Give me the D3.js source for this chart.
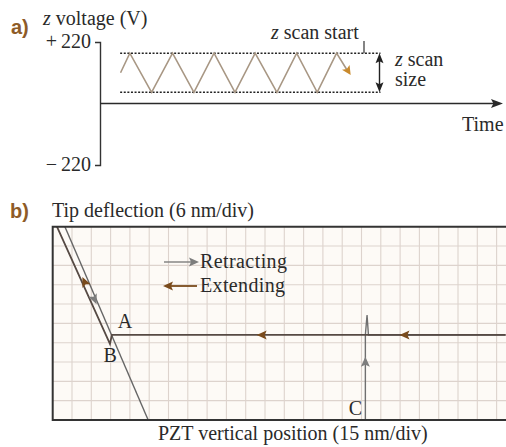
<!DOCTYPE html>
<html><head><meta charset="utf-8">
<script src="https://cdn.jsdelivr.net/npm/d3@7"></script>
<style>
body{margin:0;background:#fff}
svg{display:block}
text{font-family:"Liberation Serif","Times New Roman",serif;fill:#2a2a2a;font-size:20px}
.tag{font-family:"Liberation Sans",Arial,sans-serif;font-weight:bold;fill:#8e5b27;font-size:20px}
</style>
</head><body>
<svg id="chart" width="506" height="447"></svg>
<script>
// ---- panel a: z-piezo drive voltage vs time ----
const voltTicks = [220, -220];
const rampTime  = [5.1, 7.4, 12.8, 18.0, 23.3, 28.3, 33.5, 38.5, 43.9, 48.8, 53.9, 58.7, 62.2];
const rampVolts = [110, 180, 40, 180, 40, 180, 40, 180, 40, 180, 40, 180, 102];
const scanLevels = [180, 40];          // z scan start / end of z scan size
const scanSpan = [5, 69.6];            // time extent of the dotted guides

// ---- panel b: force curve, PZT position (nm) vs tip deflection (nm) ----
const extendPzt  = [352, 46.0, 44.5, 3.3];
const extendDefl = [26.4, 26.4, 23.6, 60];
const retractContactPzt  = [9.5, 74.2];
const retractContactDefl = [60, 0];
const retractFreePzt  = [243.0, 243.0, 244.3, 245.4, 352];
const retractFreeDefl = [0, 26.4, 32.6, 26.4, 26.4];
const extendArrowPzt = [162.4, 273.4];
const pointLabels = ["A", "B", "C"];
const pointPzt  = [50.5, 39.5, 240.5];
const pointDefl = [28.6, 17.9, 1.5];

const svg = d3.select("#chart");

function arrowHead(g, x, y, angleDeg, len, half, color) {
  g.append("path")
    .attr("d", `M0,0L${-len},${-half}L${-len * 0.8},0L${-len},${half}Z`)
    .attr("transform", `translate(${x},${y}) rotate(${angleDeg})`)
    .attr("fill", color);
}
function angleOf(x0, y0, x1, y1) { return Math.atan2(y1 - y0, x1 - x0) * 180 / Math.PI; }

// ================= panel a =================
const xA = d3.scaleLinear().domain([0, 100]).range([100, 503]);
const yA = d3.scaleLinear().domain([-220, 220]).range([165, 42]);
const ga = svg.append("g");

ga.append("text").attr("class", "tag").attr("x", 11).attr("y", 34).text("a)");
ga.append("text").attr("x", 43).attr("y", 25)
  .html('<tspan font-style="italic">z</tspan> voltage (V)');

const axA = d3.axisLeft(yA).tickValues(voltTicks).tickSizeInner(0).tickSizeOuter(5).tickPadding(9)
  .tickFormat(d => (d > 0 ? "+\u2009" : "\u2212\u2009") + Math.abs(d));
const axG = ga.append("g").attr("transform", `translate(${xA(0)},0)`).call(axA);
axG.select(".domain").attr("stroke", "#333").attr("stroke-width", 1.4);
axG.selectAll("text").attr("font-size", 20).attr("fill", "#2a2a2a")
  .attr("font-family", '"Liberation Serif",serif').attr("dy", "0.25em");

// time axis with arrow
ga.append("line").attr("x1", xA(0)).attr("x2", xA(100) - 8).attr("y1", yA(0)).attr("y2", yA(0))
  .attr("stroke", "#2a2a2a").attr("stroke-width", 1.6);
arrowHead(ga, xA(100), yA(0), 0, 12, 4.5, "#2a2a2a");
ga.append("text").attr("x", 462).attr("y", 131).text("Time");

// dotted scan guides
scanLevels.forEach(v => {
  ga.append("line").attr("x1", xA(scanSpan[0])).attr("x2", xA(scanSpan[1]))
    .attr("y1", yA(v)).attr("y2", yA(v))
    .attr("stroke", "#222").attr("stroke-width", 1.4).attr("stroke-dasharray", "2,1.6");
});

// ramp
const rampPts = rampTime.map((t, i) => [xA(t), yA(rampVolts[i])]);
ga.append("path").attr("d", d3.line()(rampPts.slice(0, -1).concat([[
  rampPts[rampPts.length - 1][0] - 3, rampPts[rampPts.length - 1][1] - 4]])))
  .attr("fill", "none").attr("stroke", "#a89784").attr("stroke-width", 1.6);
const pe = rampPts[rampPts.length - 1], pp = rampPts[rampPts.length - 2];
arrowHead(ga, pe[0], pe[1], angleOf(pp[0], pp[1], pe[0], pe[1]), 9, 4.5, "#c98a2d");

// z scan start marker
ga.append("line").attr("x1", 364).attr("x2", 364).attr("y1", 41).attr("y2", yA(scanLevels[0]))
  .attr("stroke", "#333").attr("stroke-width", 1.2);
ga.append("text").attr("x", 271).attr("y", 39)
  .html('<tspan font-style="italic">z</tspan> scan start');

// z scan size double arrow
const xs = 379.5;
ga.append("line").attr("x1", xs).attr("x2", xs).attr("y1", yA(scanLevels[0]) + 6).attr("y2", yA(scanLevels[1]) - 6)
  .attr("stroke", "#222").attr("stroke-width", 1.4);
arrowHead(ga, xs, yA(scanLevels[0]), -90, 10, 4, "#222");
arrowHead(ga, xs, yA(scanLevels[1]), 90, 10, 4, "#222");
ga.append("text").attr("x", 395).attr("y", 66).html('<tspan font-style="italic">z</tspan> scan');
ga.append("text").attr("x", 395).attr("y", 86).text("size");

// ================= panel b =================
const xB = d3.scaleLinear().domain([0, 352.3]).range([52.7, 506]);
const yB = d3.scaleLinear().domain([0, 60]).range([420, 226.7]);
const gb = svg.append("g");

gb.append("text").attr("class", "tag").attr("x", 10).attr("y", 218).text("b)");
gb.append("text").attr("x", 52).attr("y", 217).text("Tip deflection (6 nm/div)");
gb.append("text").attr("x", 158).attr("y", 440).text("PZT vertical position (15 nm/div)");

gb.append("rect").attr("x", xB(0)).attr("y", yB(60)).attr("width", 506 - xB(0)).attr("height", yB(0) - yB(60))
  .attr("fill", "#fdfaf6");

const gridX = d3.range(15, 352, 15);
const gridY = d3.range(6, 60, 6);
gb.append("g").selectAll("line").data(gridX).join("line")
  .attr("x1", d => xB(d)).attr("x2", d => xB(d)).attr("y1", yB(0)).attr("y2", yB(60))
  .attr("stroke", "#ddd3cd").attr("stroke-width", 1.1);
gb.append("g").selectAll("line").data(gridY).join("line")
  .attr("x1", xB(0)).attr("x2", 506).attr("y1", d => yB(d)).attr("y2", d => yB(d))
  .attr("stroke", "#ddd3cd").attr("stroke-width", 1.1);

svg.append("clipPath").attr("id", "plotclip").append("rect")
  .attr("x", xB(0)).attr("y", yB(60)).attr("width", 506 - xB(0)).attr("height", yB(0) - yB(60));
const plot = gb.append("g").attr("clip-path", "url(#plotclip)");
const lineB = d3.line().x(d => xB(d[0])).y(d => yB(d[1]));

const retractColor = "#7d7d7d", extendColor = "#7a4b1c";
const retractA = retractContactPzt.map((p, i) => [p, retractContactDefl[i]]);
const retractB = retractFreePzt.map((p, i) => [p, retractFreeDefl[i]]);
const extend = extendPzt.map((p, i) => [p, extendDefl[i]]);

plot.append("path").attr("d", lineB(retractA)).attr("fill", "none").attr("stroke", "#666").attr("stroke-width", 1.4);
plot.append("path").attr("d", lineB(retractB)).attr("fill", "none").attr("stroke", "#6f6f6f").attr("stroke-width", 1.4);
plot.append("path").attr("d", lineB(extend)).attr("fill", "none").attr("stroke", "#564a44").attr("stroke-width", 1.8);

// direction arrows along the curves
extendArrowPzt.forEach(p => arrowHead(plot, xB(p) - 5, yB(extendDefl[0]), 180, 10, 4.5, extendColor));
{
  // extending arrow on the contact line (moving up-left)
  const a = extend[2], b = extend[3], t = 0.52;
  const px = xB(a[0] + (b[0] - a[0]) * t), py = yB(a[1] + (b[1] - a[1]) * t);
  arrowHead(plot, px, py - 6, angleOf(xB(a[0]), yB(a[1]), xB(b[0]), yB(b[1])), 10, 4.5, extendColor);
  // retracting arrow on the contact line (moving down-right)
  const c = retractA[0], d = retractA[1], s = 0.38;
  const qx = xB(c[0] + (d[0] - c[0]) * s), qy = yB(c[1] + (d[1] - c[1]) * s);
  arrowHead(plot, qx, qy + 4, angleOf(xB(c[0]), yB(c[1]), xB(d[0]), yB(d[1])), 10, 4.5, retractColor);
  // retracting arrow on the pull-off jump at C
  arrowHead(plot, xB(retractB[0][0]), yB(19.6), -90, 10, 4.5, retractColor);
}

// point labels
pointLabels.forEach((lab, i) => {
  gb.append("text").attr("x", xB(pointPzt[i])).attr("y", yB(pointDefl[i]))
    .attr("text-anchor", lab === "C" ? "end" : "start").text(lab);
});

// frame
gb.append("path").attr("d", `M506,${yB(60)}H${xB(0)}V${yB(0)}H506`)
  .attr("fill", "none").attr("stroke", "#333").attr("stroke-width", 2);

// legend
const lg = gb.append("g");
lg.append("line").attr("x1", 164).attr("x2", 192).attr("y1", 262).attr("y2", 262)
  .attr("stroke", retractColor).attr("stroke-width", 1.4);
arrowHead(lg, 199, 262, 0, 10, 4.5, retractColor);
lg.append("text").attr("x", 200).attr("y", 268).attr("textLength", 87).text("Retracting");
lg.append("line").attr("x1", 170).attr("x2", 197).attr("y1", 286).attr("y2", 286)
  .attr("stroke", extendColor).attr("stroke-width", 1.8);
arrowHead(lg, 163, 286, 180, 10, 4.5, extendColor);
lg.append("text").attr("x", 200).attr("y", 292).attr("textLength", 85).text("Extending");
</script>
</body></html>
